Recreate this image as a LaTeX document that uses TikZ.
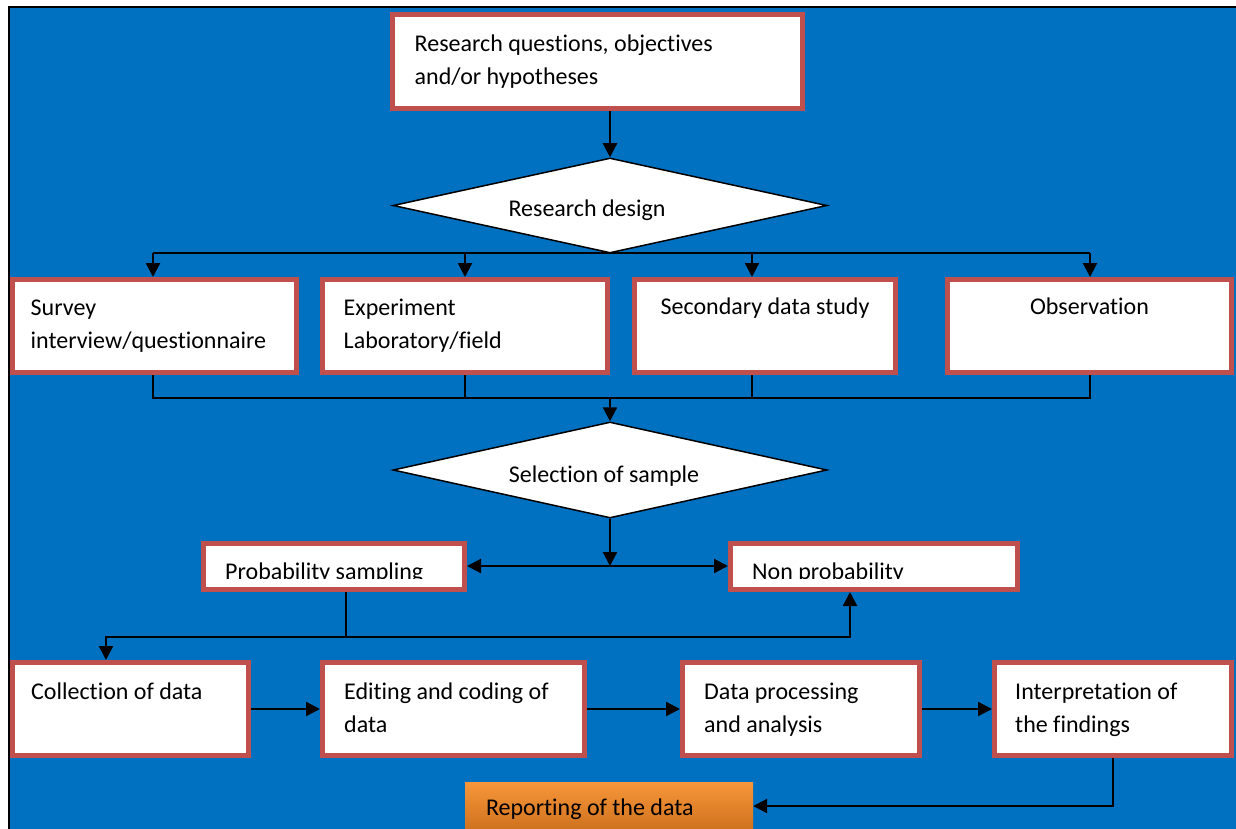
\documentclass[tikz,border=0pt]{standalone}
\usepackage{fontspec}
\setmainfont{Carlito}[Ligatures=NoCommon]
\usetikzlibrary{arrows.meta,shapes.geometric}
\definecolor{bgblue}{HTML}{0070C0}
\definecolor{boxred}{HTML}{C0504D}
\definecolor{orTop}{HTML}{F7963A}
\definecolor{orBot}{HTML}{D0731F}
\begin{document}
\begin{tikzpicture}[x=1pt,y=-1pt,
  every node/.style={font=\fontsize{24}{33}\selectfont},
  box/.style={draw=boxred, line width=5pt, fill=white, rectangle, inner sep=0pt},
  txt/.style={inner sep=0pt, align=left, anchor=north west, text=black},
  ctxt/.style={inner sep=0pt, align=center, anchor=north, text=black},
  dtxt/.style={inner sep=0pt, anchor=base, text=black},
  dia/.style={draw=black, line width=1.5pt, fill=white, diamond, inner sep=0pt, minimum width=434pt},
  conn/.style={line width=2.2pt, draw=black},
  arr/.style={conn, -{Triangle[length=14pt,width=14pt]}},
  report/.style={rectangle, inner sep=0pt, top color=orTop, bottom color=orBot, draw=none}
]
\useasboundingbox (0,0) rectangle (1236,829);
\fill[white] (0,0) rectangle (1236,829);
\fill[bgblue] (9,7) rectangle (1236,829);
\draw[line width=2pt] (9,829) -- (9,7) -- (1236,7);

% boxes
\node[box, minimum width=410pt, minimum height=94pt] (top) at (597.5,61.5) {};
\node[box, minimum width=284pt, minimum height=93pt] (survey) at (154.5,326) {};
\node[box, minimum width=285pt, minimum height=93pt] (exp) at (465,326) {};
\node[box, minimum width=261pt, minimum height=93pt] (sec) at (765,326) {};
\node[box, minimum width=284pt, minimum height=93pt] (obs) at (1089.5,326) {};
\node[box, minimum width=261pt, minimum height=46pt] (prob) at (334,566.5) {};
\node[box, minimum width=287pt, minimum height=46pt] (nonprob) at (874,566.5) {};
\node[box, minimum width=236pt, minimum height=93pt] (collect) at (130.5,709) {};
\node[box, minimum width=262pt, minimum height=93pt] (edit) at (453.5,709) {};
\node[box, minimum width=237pt, minimum height=93pt] (proc) at (801,709) {};
\node[box, minimum width=237pt, minimum height=93pt] (interp) at (1113,709) {};
\node[report, minimum width=288pt, minimum height=47pt] (rep) at (609,805.5) {};

\node[dia, minimum height=95pt] (d1) at (610,205.5) {};
\node[dia, minimum height=96pt] (d2) at (610,470) {};

% texts
\node[txt] (topT) at ([shift={(24.5,16)}]top.north west) {\strut Research questions, objectives\\and/or hypotheses};
\node[txt] (survT) at ([shift={(20.5,15)}]survey.north west) {\strut Survey\\interview/questionnaire};
\node[txt] (expT) at ([shift={(23.5,15)}]exp.north west) {\strut Experiment\\Laboratory/field};
\node[ctxt] (secT) at ([shift={(0,14.5)}]sec.north) {\strut Secondary data study};
\node[ctxt] (obsT) at ([shift={(0,14.5)}]obs.north) {\strut Observation};
\node[txt] (collectT) at ([shift={(21,16)}]collect.north west) {\strut Collection of data};
\node[txt] (editT) at ([shift={(24,16)}]edit.north west) {\strut Editing and coding of\\data};
\node[txt] (procT) at ([shift={(24,16)}]proc.north west) {\strut Data processing\\and analysis};
\node[txt] (interpT) at ([shift={(23,16)}]interp.north west) {\strut Interpretation of\\the findings};
\node[txt] (repT) at ([shift={(21,10)}]rep.north west) {\strut Reporting of the data};
\begin{scope}
\clip (201,541) rectangle (467,578);
\node[txt] (probT) at ([shift={(24,15.5)}]prob.north west) {\strut Probability sampling};
\end{scope}
\begin{scope}
\clip (728,541) rectangle (1020,578);
\node[txt] (nonprobT) at ([shift={(24,15.5)}]nonprob.north west) {\strut Non probability};
\end{scope}
\node[dtxt] (d1T) at ([shift={(-23,11)}]d1.center) {Research design};
\node[dtxt] (d2T) at ([shift={(-6,12)}]d2.center) {Selection of sample};

% connectors
\draw[arr] (d1.north |- top.south) -- (d1.north);
\coordinate (b1) at (153,253);
\coordinate (b2) at (465,253);
\coordinate (b3) at (752,253);
\coordinate (b4) at (1090,253);
\draw[conn] (b1) -- (b4);
\draw[arr] (b1) -- (b1 |- survey.north);
\draw[arr] (b2) -- (b2 |- exp.north);
\draw[arr] (b3) -- (b3 |- sec.north);
\draw[arr] (b4) -- (b4 |- obs.north);

\coordinate (c1) at (153,398);
\coordinate (c2) at (465,398);
\coordinate (c3) at (752,398);
\coordinate (c4) at (1090,398);
\draw[conn] (c1 |- survey.south) -- (c1) -- (c4) -- (c4 |- obs.south);
\draw[conn] (c2 |- exp.south) -- (c2);
\draw[conn] (c3 |- sec.south) -- (c3);
\draw[arr] (d2.north |- c1) -- (d2.north);

\coordinate (j) at (610,566);
\draw[arr] (d2.south) -- (j);
\draw[arr] (j) -- (j -| prob.east);
\draw[arr] (j) -- (j -| nonprob.west);

\coordinate (p1) at (346,637);
\coordinate (p0) at (106,637);
\coordinate (p2) at (850,637);
\draw[conn] (p1 |- prob.south) -- (p1);
\draw[arr] (p1) -- (p0) -- (p0 |- collect.north);
\draw[arr] (p1) -- (p2) -- (p2 |- nonprob.south);

\draw[arr] (collect.east) -- (edit.west);
\draw[arr] (edit.east) -- (proc.west);
\draw[arr] (proc.east) -- (interp.west);

\coordinate (r1) at (1113,806);
\draw[arr] (interp.south) -- (r1) -- (r1 -| rep.east);
\end{tikzpicture}
\end{document}
